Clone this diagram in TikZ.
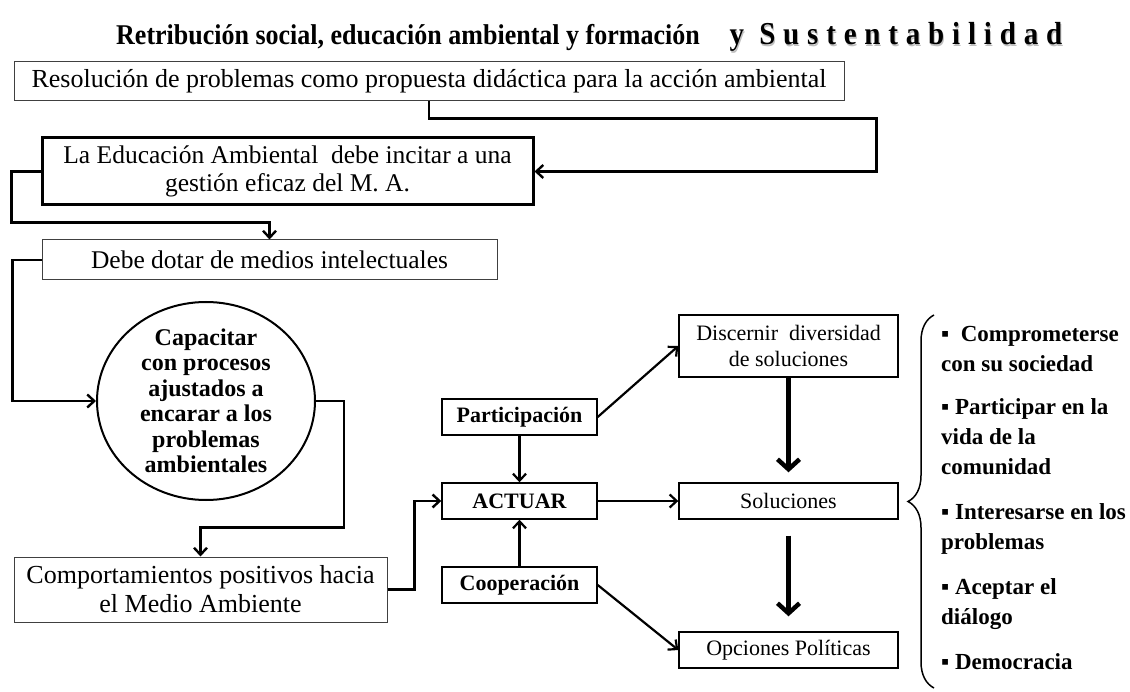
\documentclass[tikz,border=0pt]{standalone}
\usepackage{fontspec}
\setmainfont{Liberation Serif}
\usetikzlibrary{arrows.meta,shapes.geometric,decorations.pathreplacing}
\tikzset{caja/.style={draw=black!75, line width=1pt, rectangle, inner sep=0pt, align=center}}
\tikzset{cajad/.style={caja, draw=black, line width=1.4pt, minimum width=219pt, minimum height=36pt, font=\fontsize{22}{26}\selectfont}}
\tikzset{cajan/.style={cajad, minimum width=155pt, font=\bfseries\fontsize{22}{26}\selectfont}}
\tikzset{conn/.style={line width=2.4pt, -{Straight Barb[length=7pt,width=13pt]}}}
\tikzset{flecha/.style={line width=2.2pt, -{Straight Barb[length=7pt,width=13pt]}}}
\tikzset{gruesa/.style={line width=4.5pt, -{Straight Barb[length=10pt,width=22pt]}}}

\begin{document}
\begin{tikzpicture}[x=1pt, y=-1pt]
  \useasboundingbox (0,0) rectangle (1130,692);
  \node[anchor=base west, inner sep=0pt, font=\bfseries\fontsize{26}{30}\selectfont] (titulo) at (116,45)
    {\scalebox{1}[1.1]{Retribución social, educación ambiental y formación\hspace{30pt}{\fontsize{29}{33}\selectfont\addfontfeature{LetterSpace=27}\rlap{\color{black!25}\hspace{1pt}\raisebox{-1pt}{y Sustentabilidad}}y Sustentabilidad}}};

  \node[caja, minimum width=830pt, minimum height=39pt, font=\fontsize{26}{30}\selectfont] (res) at (429,81.5)
    {Resolución de problemas como propuesta didáctica para la acción ambiental};
  \node[caja, draw=black, line width=3pt, minimum width=491pt, minimum height=67pt, font=\fontsize{25.5}{28.5}\selectfont] (edu) at (287.5,171.5)
    {La Educación Ambiental\ \ debe incitar a una\\gestión eficaz del M. A.};
  \node[caja, minimum width=455pt, minimum height=40pt, font=\fontsize{25.5}{30}\selectfont] (dotar) at (269.5,260)
    {Debe dotar de medios intelectuales};
  \node[draw, ellipse, line width=2pt, minimum width=218pt, minimum height=198pt, inner xsep=0pt, inner ysep=-16pt, align=center, font=\bfseries\fontsize{24}{25.5}\selectfont] (cap) at (206,401)
    {Capacitar\\con procesos\\ajustados a\\encarar a los\\problemas\\ambientales};
  \node[caja, minimum width=373pt, minimum height=65pt, font=\fontsize{26}{29}\selectfont] (comp) at (200.5,589.5)
    {Comportamientos positivos hacia\\el Medio Ambiente};

  \node[cajan] (part) at (519.5,417) {Participación};
  \node[cajan] (act) at (519.5,501) {ACTUAR};
  \node[cajan] (coop) at (519.5,585) {Cooperación};
  \node[cajad, minimum height=62pt] (disc) at (788.5,346) {Discernir\ \ diversidad\\de soluciones};
  \node[cajad] (sol) at (788.5,501) {Soluciones};
  \node[cajad] (opc) at (788.5,650) {Opciones Políticas};

  \draw[conn] (res.south) -- ++(0,17) -| ([xshift=342pt]edu.east) -- (edu.east);
  \draw[conn] (edu.west) -- ++(-29,0) |- ([yshift=17pt]dotar.north) -- (dotar.north);
  \draw[conn] (dotar.west) -- ++(-29,0) |- (cap.west);
  \draw[conn] (cap.east) -- ++(28,0) |- ([yshift=29pt]comp.north) -- (comp.north);
  \draw[conn] (comp.east) -- ++(27,0) |- (act.west);

  \draw[flecha] (part) -- (act);
  \draw[flecha] (coop) -- (act);
  \draw[flecha] (act) -- (sol);
  \draw[flecha] (part.east) -- (disc.west);
  \draw[flecha] (coop.east) -- (opc.west);
  \draw[gruesa, shorten >=10pt] (disc) -- (sol);
  \draw[gruesa, shorten <=16pt, shorten >=15pt] (sol) -- (opc);

  \draw[line width=1.5pt, decorate, decoration={brace, amplitude=26pt}] (934,688) -- (934,315);
  \node[anchor=north west, inner sep=0pt, align=left, font=\bfseries\fontsize{23}{30}\selectfont] (lista) at (941,326)
    {▪\ \ Comprometerse\\con su sociedad\\[13pt]
     ▪ Participar\ en la\\vida\ de la\\comunidad\\[15pt]
     ▪ Interesarse en los\\problemas\\[15pt]
     ▪ Aceptar el\\diálogo\\[15pt]
     ▪ Democracia};
\end{tikzpicture}
\end{document}
